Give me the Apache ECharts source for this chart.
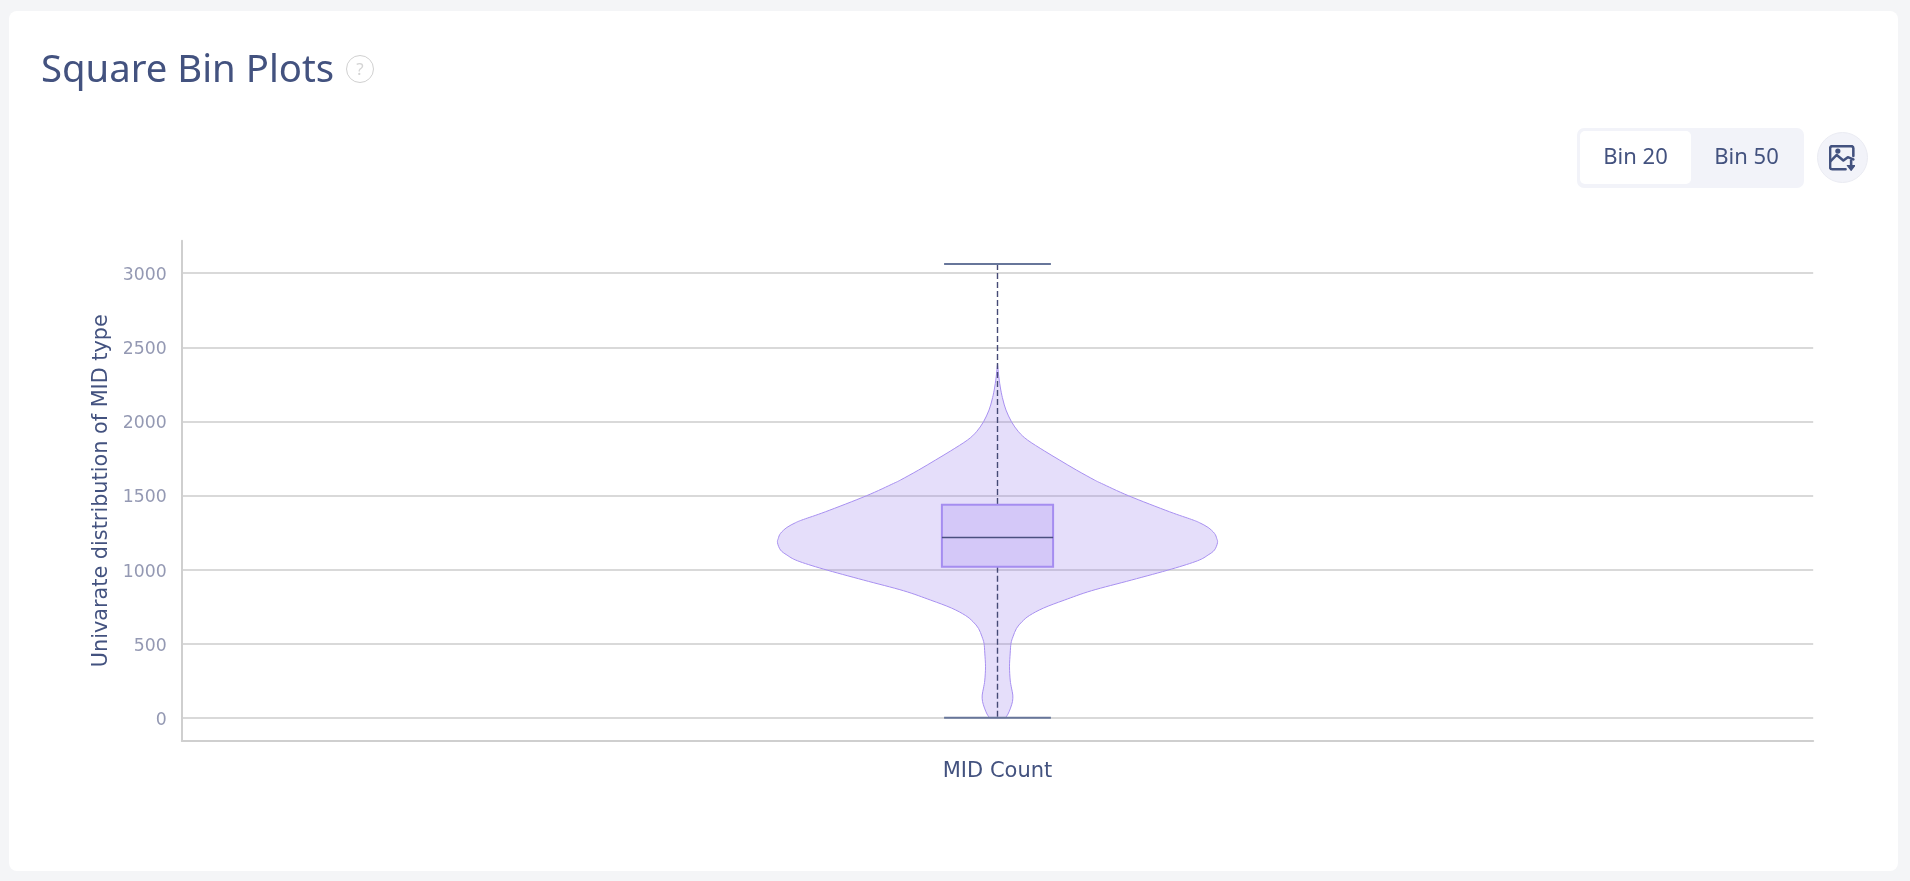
<!DOCTYPE html>
<html><head><meta charset="utf-8">
<script src="https://cdn.jsdelivr.net/npm/echarts@6/dist/echarts.min.js"></script>
<style>
html,body{margin:0;padding:0;width:1910px;height:881px;overflow:hidden;background:#f4f5f7;}
#card{position:absolute;left:9px;top:11px;width:1889px;height:860px;background:#fff;border-radius:8px;}
#main{position:absolute;left:0;top:0;width:1910px;height:881px;}
.t{position:absolute;font-family:"Noto Sans",sans-serif;color:#43527f;white-space:nowrap;}
#title{left:41px;top:38px;font-size:38.3px;line-height:58px;}
#help{position:absolute;left:346px;top:55px;width:26px;height:26px;border:1px solid #d0d0d0;border-radius:50%;color:#d4d4d4;font:17px/26px "Noto Sans",sans-serif;text-align:center;background:#fff;}
#seg{position:absolute;left:1577px;top:128px;width:227px;height:60px;background:#f2f3f9;border-radius:7px;}
#on{position:absolute;left:1580px;top:131px;width:111px;height:53px;background:#fff;border-radius:5px;}
.b{top:129px;height:53px;line-height:53px;font-size:22px;width:111px;text-align:center;}
#dl{position:absolute;left:1817px;top:132px;width:49px;height:49px;border:1px solid #eaebf2;border-radius:50%;background:#f2f3f9;}
#dl svg{position:absolute;left:11px;top:12px;}
</style></head><body>
<div id="card"></div>
<div id="main"></div>
<div id="title" class="t">Square Bin Plots</div>
<div id="help">?</div>
<div id="seg"></div><div id="on"></div>
<div class="t b" style="left:1580px">Bin 20</div>
<div class="t b" style="left:1691px">Bin 50</div>
<div id="dl"><svg width="26" height="26" viewBox="1 1 23.5 23.5" fill="none" stroke="#43527f" stroke-width="2.3" stroke-linejoin="round" stroke-linecap="round">
<path d="M23 11V4a2 2 0 0 0-2-2H4a2 2 0 0 0-2 2v17a2 2 0 0 0 2 2h12"/><path d="M2 16l6-6 6 5 4-3 5 2"/><circle cx="9" cy="6.5" r="1.2" fill="#43527f"/>
<path d="M21 15v5" /><path d="M17.5 19.5h7L21 24z" fill="#43527f" stroke-width="1"/></svg></div>
<script>
const categories = ['MID Count'];
const yTicks = [0, 500, 1000, 1500, 2000, 2500, 3000];
// [lowWhisker, q1, median, q3, highWhisker]
const boxStats = [0, 1019, 1217, 1437, 3061];
const violinValues = [0, 25, 65, 110, 153, 200, 254, 344, 436, 502, 547, 603, 648, 690, 740, 794, 857, 929, 1003, 1059, 1098, 1132, 1181, 1210, 1244, 1284, 1316, 1338, 1390, 1498, 1581, 1604, 1671, 1739, 1800, 1874, 1930, 1997, 2076, 2144, 2211, 2301, 2391];
const violinDensity = [8, 10.5, 13, 15, 15.3, 14, 12.7, 12, 12.7, 13.5, 15.5, 19, 24.5, 32, 46, 67, 94, 134, 174, 200, 210.6, 217, 220, 219.2, 217, 210.6, 202, 194, 172, 131, 104, 97, 79, 62, 47, 30, 21, 14, 8.5, 5.5, 3.3, 1.3, 0];

const DENSITY_PER_HALF_GRID = 815.7;
const BOX_HALF = 55.6, CAP_HALF = 53.4;

// Catmull-Rom curve through screen points, as bezier path commands
function curve(p) {
  let d = '';
  for (let i = 0; i < p.length - 1; i++) {
    const a = p[Math.max(i - 1, 0)], b = p[i], c = p[i + 1], e = p[Math.min(i + 2, p.length - 1)];
    const c1 = [b[0] + (c[0] - a[0]) / 6, b[1] + (c[1] - a[1]) / 6];
    const c2 = [c[0] - (e[0] - b[0]) / 6, c[1] - (e[1] - b[1]) / 6];
    d += 'C' + c1[0] + ' ' + c1[1] + ' ' + c2[0] + ' ' + c2[1] + ' ' + c[0] + ' ' + c[1];
  }
  return d;
}
function renderViolin(params, api) {
  const right = violinValues.map((v, i) => api.coord([violinDensity[i], v]));
  const left = violinValues.map((v, i) => api.coord([-violinDensity[i], v])).reverse();
  const pathData = 'M' + right[0][0] + ' ' + right[0][1] + curve(right) + curve(left) + 'Z';
  return {type: 'path', shape: {pathData},
    style: {fill: 'rgba(150,125,235,0.25)', stroke: '#a78ff0', lineWidth: 1}, silent: true};
}
function renderBox(params, api) {
  const [lo, q1, med, q3, hi] = boxStats;
  const tl = api.coord([-BOX_HALF, q3]), br = api.coord([BOX_HALF, q1]);
  const seg = (x1, y1, x2, y2, style) => {
    const a = api.coord([x1, y1]), b = api.coord([x2, y2]);
    return {type: 'line', shape: {x1: a[0], y1: a[1], x2: b[0], y2: b[1]}, style};
  };
  const dark = {stroke: '#454a75', lineWidth: 1.4, lineDash: [6, 3]};
  const cap = {stroke: '#67769a', lineWidth: 2};
  return {type: 'group', children: [
    seg(0, hi, 0, q3, dark), seg(0, q1, 0, lo, dark),
    {type: 'rect', shape: {x: tl[0], y: tl[1], width: br[0] - tl[0], height: br[1] - tl[1]},
      style: {fill: '#d4c8f8', stroke: '#a58df0', lineWidth: 2}},
    seg(-BOX_HALF, med, BOX_HALF, med, {stroke: '#4a4f7f', lineWidth: 1.5}),
    seg(-CAP_HALF, hi, CAP_HALF, hi, cap), seg(-CAP_HALF, lo, CAP_HALF, lo, cap)
  ]};
}
const chart = echarts.init(document.getElementById('main'), null, {width: 1910, height: 881});
chart.setOption({
  animation: false,
  grid: {left: 181.8, top: 240.7, width: 1631.4, height: 500},
  xAxis: [
    {type: 'category', data: categories, axisTick: {show: false},
     axisLine: {onZero: false, lineStyle: {color: '#cfcfcf', width: 2}},
     axisLabel: {color: '#43527f', fontSize: 21, fontFamily: 'DejaVu Sans', margin: 20}},
    {type: 'value', show: false, min: -DENSITY_PER_HALF_GRID, max: DENSITY_PER_HALF_GRID}
  ],
  yAxis: {type: 'value', min: -155, max: 3219,
    name: 'Univarate distribution of MID type', nameLocation: 'middle', nameGap: 64,
    nameTextStyle: {color: '#43527f', fontSize: 20.8, fontFamily: 'DejaVu Sans'},
    axisLine: {show: true, onZero: false, lineStyle: {color: '#cfcfcf', width: 2}},
    axisTick: {show: false, customValues: yTicks},
    axisLabel: {margin: 15, customValues: yTicks, formatter: v => '{t|' + v + '}',
      rich: {t: {color: '#9499b3', fontSize: 17.3, fontFamily: 'DejaVu Sans', padding: [5, 0, 0, 0]}}},
    splitLine: {show: true, lineStyle: {color: '#cdcdcd', width: 1.5}}
  },
  series: [
    {type: 'custom', xAxisIndex: 1, yAxisIndex: 0, data: [0], renderItem: renderViolin, z: 3, clip: false},
    {type: 'custom', xAxisIndex: 1, yAxisIndex: 0, data: [0], renderItem: renderBox, z: 4, clip: false}
  ]
});
</script>
</body></html>
